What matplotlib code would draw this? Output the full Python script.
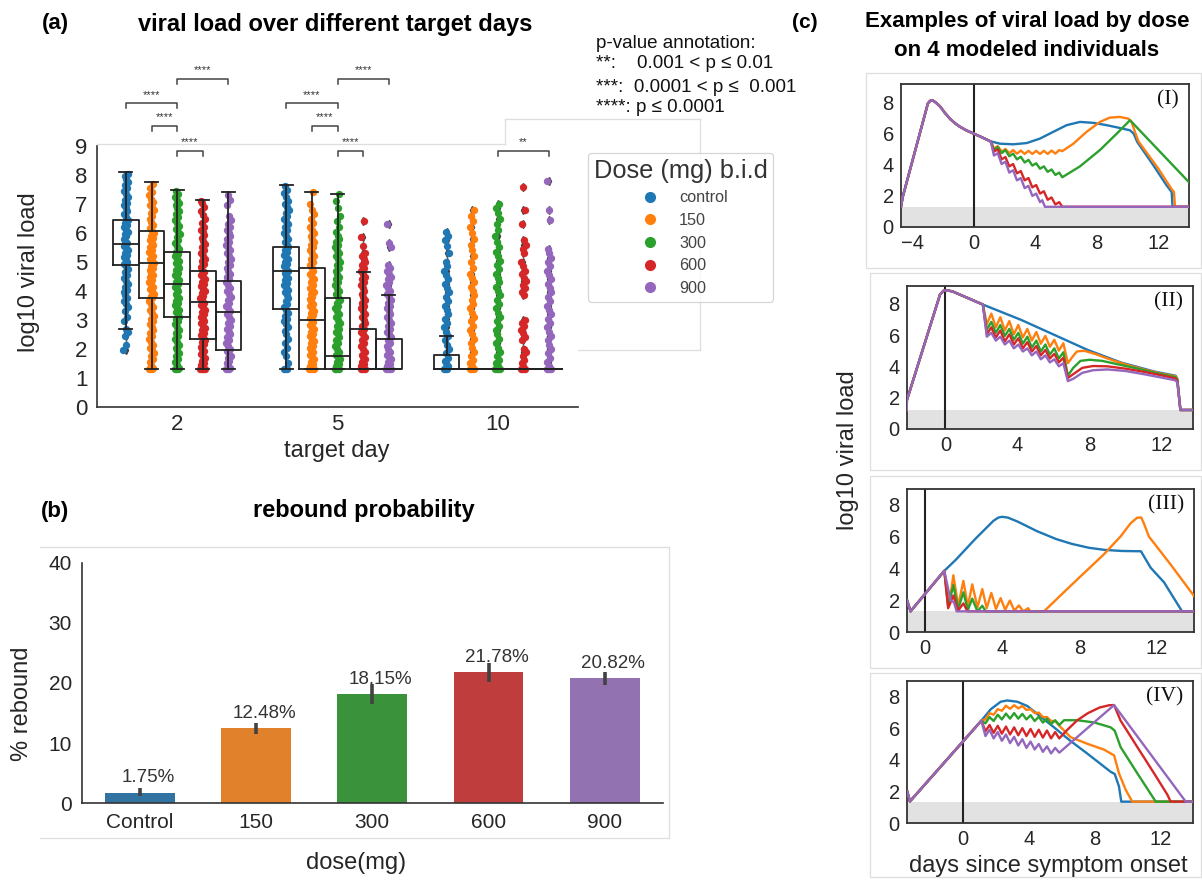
import matplotlib
matplotlib.use('Agg')
import matplotlib.pyplot as plt
from matplotlib.lines import Line2D
from matplotlib.patches import Rectangle

plt.rcParams['font.family'] = ['Liberation Sans', 'DejaVu Sans']

# ---------------------------------------------------------------- data (a)
target_days = ['2', '5', '10']
dose_names = ['control', '150', '300', '600', '900']

day2_control = [1.95, 2.15, 2.45, 2.6, 2.7, 2.95, 3.1, 3.3, 3.45, 3.55, 3.65, 3.75, 3.85, 3.95, 4.05, 4.15, 4.25, 4.35, 4.45, 4.55, 4.65, 4.75, 4.85, 4.92, 5.0, 5.08, 5.16, 5.24, 5.32, 5.4, 5.48, 5.56, 5.64, 5.72, 5.8, 5.88, 5.96, 6.04, 6.12, 6.2, 6.28, 6.36, 6.45, 6.55, 6.65, 6.75, 6.85, 6.95, 7.05, 7.15, 7.25, 7.35, 7.45, 7.55, 7.65, 7.75, 7.85, 7.95, 8.05]
day2_150 = [1.3, 1.3, 1.3, 1.36, 1.45, 1.55, 1.65, 1.75, 1.85, 1.95, 2.05, 2.15, 2.25, 2.35, 2.45, 2.55, 2.65, 2.75, 2.85, 2.95, 3.05, 3.15, 3.25, 3.35, 3.45, 3.55, 3.65, 3.75, 3.83, 3.91, 3.99, 4.07, 4.15, 4.23, 4.31, 4.39, 4.47, 4.55, 4.63, 4.71, 4.79, 4.87, 4.95, 5.03, 5.11, 5.19, 5.27, 5.35, 5.43, 5.51, 5.59, 5.67, 5.75, 5.83, 5.91, 5.99, 6.08, 6.18, 6.28, 6.38, 6.48, 6.58, 6.68, 6.78, 6.88, 6.98, 7.08, 7.18, 7.3, 7.42, 7.55, 7.7]
day2_300 = [1.3, 1.3, 1.3, 1.36, 1.45, 1.55, 1.65, 1.75, 1.85, 1.95, 2.05, 2.15, 2.25, 2.35, 2.45, 2.55, 2.65, 2.75, 2.85, 2.95, 3.03, 3.11, 3.19, 3.27, 3.35, 3.43, 3.51, 3.59, 3.67, 3.75, 3.83, 3.91, 3.99, 4.07, 4.15, 4.23, 4.31, 4.39, 4.47, 4.55, 4.63, 4.71, 4.79, 4.87, 4.95, 5.03, 5.11, 5.19, 5.27, 5.35, 5.45, 5.55, 5.65, 5.75, 5.85, 5.95, 6.05, 6.15, 6.25, 6.35, 6.45, 6.55, 6.65, 6.75, 6.85, 6.95, 7.05, 7.15, 7.25, 7.35, 7.45]
day2_600 = [1.3, 1.3, 1.3, 1.3, 1.36, 1.44, 1.52, 1.6, 1.68, 1.76, 1.84, 1.92, 2.0, 2.08, 2.16, 2.24, 2.32, 2.4, 2.48, 2.56, 2.64, 2.72, 2.8, 2.88, 2.96, 3.04, 3.12, 3.2, 3.28, 3.36, 3.44, 3.52, 3.6, 3.68, 3.76, 3.84, 3.92, 4.0, 4.08, 4.16, 4.24, 4.32, 4.4, 4.48, 4.56, 4.64, 4.72, 4.82, 4.92, 5.02, 5.12, 5.22, 5.32, 5.42, 5.52, 5.62, 5.72, 5.82, 5.92, 6.02, 6.12, 6.22, 6.35, 6.5, 6.62, 6.75, 6.9, 7.05, 7.1]
day2_900 = [1.3, 1.3, 1.3, 1.36, 1.44, 1.52, 1.6, 1.68, 1.76, 1.84, 1.92, 2.0, 2.1, 2.2, 2.3, 2.4, 2.5, 2.6, 2.7, 2.8, 2.9, 3.0, 3.1, 3.2, 3.3, 3.4, 3.5, 3.6, 3.7, 3.8, 3.9, 4.0, 4.1, 4.2, 4.3, 4.4, 4.5, 4.6, 4.7, 4.8, 4.9, 5.0, 5.1, 5.2, 5.3, 5.4, 5.5, 5.6, 5.7, 5.8, 5.9, 6.0, 6.1, 6.2, 6.3, 6.45, 6.6, 6.95, 7.15, 7.3]

day5_control = [1.3, 1.3, 1.32, 1.5, 1.75, 1.9, 2.05, 2.2, 2.35, 2.5, 2.62, 2.75, 2.85, 2.95, 3.05, 3.15, 3.25, 3.35, 3.45, 3.55, 3.65, 3.75, 3.85, 3.95, 4.05, 4.13, 4.21, 4.29, 4.37, 4.45, 4.53, 4.61, 4.69, 4.77, 4.85, 4.93, 5.01, 5.09, 5.17, 5.25, 5.33, 5.41, 5.5, 5.6, 5.7, 5.8, 5.9, 6.0, 6.1, 6.2, 6.3, 6.4, 6.5, 6.6, 6.7, 6.8, 6.9, 7.0, 7.12, 7.25, 7.38, 7.5, 7.62]
day5_150 = [1.3, 1.3, 1.3, 1.3, 1.34, 1.4, 1.48, 1.56, 1.64, 1.72, 1.8, 1.88, 1.96, 2.04, 2.12, 2.2, 2.28, 2.36, 2.44, 2.52, 2.6, 2.68, 2.76, 2.84, 2.92, 3.0, 3.08, 3.16, 3.24, 3.32, 3.4, 3.48, 3.56, 3.64, 3.72, 3.8, 3.88, 3.96, 4.04, 4.12, 4.2, 4.3, 4.4, 4.5, 4.6, 4.7, 4.8, 4.9, 5.0, 5.1, 5.2, 5.3, 5.4, 5.5, 5.6, 5.7, 5.8, 5.9, 6.0, 6.1, 6.22, 6.35, 6.5, 6.65, 6.8, 7.0, 7.4]
day5_300 = [1.3, 1.3, 1.3, 1.3, 1.34, 1.4, 1.48, 1.56, 1.64, 1.72, 1.8, 1.9, 2.0, 2.1, 2.2, 2.3, 2.4, 2.5, 2.6, 2.7, 2.8, 2.9, 3.0, 3.1, 3.2, 3.3, 3.4, 3.5, 3.6, 3.7, 3.8, 3.9, 4.0, 4.1, 4.2, 4.3, 4.4, 4.5, 4.6, 4.7, 4.8, 4.9, 5.0, 5.1, 5.2, 5.3, 5.4, 5.5, 5.6, 5.7, 5.8, 5.9, 6.05, 6.2, 6.4, 6.6, 6.85, 7.1, 7.35]
day5_600 = [1.3, 1.3, 1.3, 1.3, 1.34, 1.4, 1.48, 1.56, 1.64, 1.72, 1.8, 1.9, 2.0, 2.1, 2.2, 2.3, 2.4, 2.5, 2.6, 2.7, 2.8, 2.9, 3.0, 3.1, 3.2, 3.3, 3.4, 3.5, 3.6, 3.7, 3.8, 3.9, 4.0, 4.1, 4.2, 4.3, 4.4, 4.5, 4.6, 4.7, 4.8, 4.9, 5.0, 5.1, 5.2, 5.3, 5.55, 5.85, 6.4]
day5_900 = [1.3, 1.3, 1.3, 1.3, 1.34, 1.4, 1.48, 1.56, 1.64, 1.72, 1.8, 1.9, 2.0, 2.1, 2.2, 2.3, 2.4, 2.5, 2.6, 2.7, 2.8, 2.9, 3.0, 3.1, 3.2, 3.3, 3.4, 3.5, 3.6, 3.7, 3.8, 3.9, 4.0, 4.1, 4.2, 4.3, 4.4, 4.5, 4.6, 4.7, 4.8, 4.9, 5.5, 5.65, 6.3]

day10_control = [1.3, 1.3, 1.3, 1.4, 1.5, 1.6, 1.7, 1.85, 2.0, 2.15, 2.3, 2.45, 2.6, 2.75, 2.9, 3.05, 3.2, 3.35, 3.5, 3.65, 3.8, 3.95, 4.1, 4.25, 4.4, 4.55, 4.7, 4.85, 5.0, 5.3, 5.55, 5.75, 5.9, 6.05]
day10_150 = [1.3, 1.3, 1.3, 1.3, 1.4, 1.5, 1.62, 1.75, 1.9, 2.05, 2.2, 2.35, 2.5, 2.65, 2.8, 2.95, 3.1, 3.25, 3.4, 3.55, 3.7, 3.85, 4.0, 4.15, 4.3, 4.45, 4.6, 4.8, 5.0, 5.2, 5.4, 5.6, 5.8, 6.0, 6.2, 6.4, 6.6, 6.8]
day10_300 = [1.3, 1.3, 1.3, 1.3, 1.4, 1.5, 1.62, 1.75, 1.9, 2.05, 2.2, 2.35, 2.5, 2.65, 2.8, 2.95, 3.1, 3.25, 3.4, 3.55, 3.7, 3.85, 4.0, 4.15, 4.3, 4.45, 4.6, 4.75, 4.9, 5.05, 5.2, 5.35, 5.5, 5.7, 5.9, 6.1, 6.3, 6.5, 6.7, 6.85, 7.0]
day10_600 = [1.3, 1.3, 1.3, 1.3, 1.4, 1.5, 1.62, 1.75, 1.9, 2.0, 2.3, 2.42, 2.54, 2.66, 2.78, 2.9, 3.0, 3.85, 3.97, 4.09, 4.21, 4.33, 4.45, 4.57, 4.7, 4.85, 5.0, 5.3, 5.45, 5.6, 5.75, 6.3, 6.8, 7.6]
day10_900 = [1.3, 1.3, 1.3, 1.3, 1.42, 1.55, 1.7, 1.85, 2.0, 2.15, 2.3, 2.45, 2.6, 2.75, 2.9, 3.05, 3.2, 3.35, 3.5, 3.65, 3.8, 3.95, 4.1, 4.25, 4.4, 4.55, 4.7, 4.85, 5.0, 5.15, 5.3, 5.45, 6.45, 6.8, 7.8]

strip_values = [
    [day2_control, day2_150, day2_300, day2_600, day2_900],
    [day5_control, day5_150, day5_300, day5_600, day5_900],
    [day10_control, day10_150, day10_300, day10_600, day10_900],
]

# box statistics per target day (control, 150, 300, 600, 900)
box_q1 = [[4.9, 3.75, 3.09, 2.36, 1.96], [3.37, 1.32, 1.32, 1.32, 1.32], [1.32, 1.32, 1.32, 1.32, 1.32]]
box_med = [[5.62, 4.96, 4.23, 3.63, 3.29], [4.7, 3.0, 1.75, 1.32, 1.32], [1.32, 1.32, 1.32, 1.32, 1.32]]
box_q3 = [[6.46, 6.08, 5.33, 4.7, 4.33], [5.51, 4.79, 3.75, 2.69, 2.36], [1.78, 1.32, 1.32, 1.32, 1.32]]
box_wlo = [[2.7, 1.3, 1.3, 1.3, 1.3], [1.3, 1.3, 1.3, 1.3, 1.3], [1.3, 1.3, 1.3, 1.3, 1.3]]
box_whi = [[8.1, 7.75, 7.5, 7.15, 7.4], [7.65, 7.4, 7.35, 4.67, 3.86], [2.45, 1.32, 1.32, 1.32, 1.32]]

# significance brackets: target day index, hue a, hue b, height, label
sig_day = [0, 0, 0, 0, 1, 1, 1, 1, 2]
sig_a = [0, 1, 2, 2, 0, 1, 2, 2, 2]
sig_b = [2, 2, 3, 4, 2, 2, 3, 4, 4]
sig_y = [10.47, 9.69, 8.84, 11.31, 10.47, 9.69, 8.84, 11.31, 8.84]
sig_text = ['****', '****', '****', '****', '****', '****', '****', '****', '**']

# ---------------------------------------------------------------- data (b)
bar_labels = ['Control', '150', '300', '600', '900']
rebound_pct = [1.75, 12.48, 18.15, 21.78, 20.82]
rebound_lo = [1.2, 11.5, 16.5, 20.2, 19.7]
rebound_hi = [2.5, 13.4, 19.8, 23.3, 21.9]

# ---------------------------------------------------------------- data (c)
# Panel I
I_pre_x = [-4.75, -4.64, -3.0, -2.85, -2.7, -2.5, -2.2, -1.9, -1.55, -1.2, -0.9, -0.5, 0.0, 0.5, 1.05]
I_pre_y = [1.3, 1.93, 7.95, 8.12, 8.15, 8.02, 7.75, 7.35, 6.95, 6.65, 6.44, 6.22, 6.0, 5.78, 5.52]
I_zig_t = [1.1, 1.3, 1.55, 1.8, 2.05, 2.3, 2.55, 2.8, 3.05, 3.3, 3.55, 3.8, 4.05, 4.3, 4.55, 4.8, 5.05, 5.3, 5.55, 5.75]
I_control_x = [1.69, 2.56, 3.43, 4.3, 5.16, 6.03, 6.9, 7.77, 8.64, 9.5, 10.16, 10.4, 10.63, 11.68, 12.54, 12.87, 12.93, 14.0]
I_control_y = [5.36, 5.32, 5.4, 5.69, 6.12, 6.55, 6.76, 6.7, 6.55, 6.37, 6.22, 6.0, 5.47, 3.97, 2.68, 2.25, 1.3, 1.3]
I_150_zig = [5.5, 5.05, 5.2, 4.85, 5.02, 4.75, 4.95, 4.72, 4.92, 4.7, 4.9, 4.7, 4.9, 4.7, 4.9, 4.7, 4.92, 4.72, 4.95, 4.88]
I_150_tail_x = [6.47, 7.33, 8.2, 8.85, 9.5, 10.05, 10.26, 10.48, 10.7, 12.0, 12.87, 13.02, 13.09, 14.0]
I_150_tail_y = [5.36, 6.12, 6.76, 7.04, 7.08, 6.97, 6.76, 6.12, 5.52, 3.76, 2.43, 2.25, 1.3, 1.3]
I_300_zig = [5.5, 4.95, 5.15, 4.75, 4.95, 4.55, 4.72, 4.35, 4.52, 4.15, 4.32, 3.95, 4.1, 3.75, 3.9, 3.55, 3.7, 3.35, 3.5, 3.2]
I_300_tail_x = [6.9, 8.2, 9.29, 10.16, 14.0]
I_300_tail_y = [3.9, 4.95, 6.0, 6.87, 2.88]
I_600_zig = [5.5, 4.85, 5.0, 4.35, 4.5, 3.9, 4.05, 3.45, 3.6, 3.0, 3.15, 2.55, 2.7, 2.15, 2.3, 1.75, 1.9, 1.45, 1.6, 1.3]
I_600_tail_x = [14.0]
I_600_tail_y = [1.3]
I_900_t = [1.1, 1.3, 1.55, 1.8, 2.05, 2.3, 2.55, 2.8, 3.05, 3.3, 3.55, 3.8, 4.05, 4.3, 4.45, 4.62, 14.0]
I_900_y = [5.5, 4.6, 4.75, 4.05, 4.2, 3.5, 3.65, 3.0, 3.15, 2.5, 2.65, 2.0, 2.15, 1.6, 1.72, 1.3, 1.3]

# Panel II
II_pre_x = [-2.15, -2.14, -0.3, -0.1, 0.1, 0.4, 1.0, 2.08]
II_pre_y = [1.2, 1.83, 8.6, 8.85, 8.87, 8.8, 8.5, 7.96]
II_zig_t = [2.08, 2.3, 2.55, 2.8, 3.05, 3.3, 3.55, 3.8, 4.05, 4.3, 4.55, 4.8, 5.05, 5.3, 5.55, 5.8, 6.05, 6.3, 6.55, 6.8]
II_control_x = [4.18, 6.04, 7.9, 9.76, 11.62, 12.78, 12.88, 13.05, 13.75]
II_control_y = [6.99, 6.02, 5.05, 4.24, 3.66, 3.4, 3.2, 1.2, 1.2]
II_150_zig = [7.96, 6.7, 7.38, 6.5, 7.15, 6.3, 6.9, 6.05, 6.65, 5.85, 6.4, 5.65, 6.2, 5.45, 5.95, 5.25, 5.7, 5.0, 5.48, 4.2]
II_150_tail_x = [7.05, 7.3, 7.7, 8.3, 9.0, 10.0, 11.0, 12.0, 12.78, 12.88, 13.05, 13.75]
II_150_tail_y = [4.6, 4.95, 5.0, 4.8, 4.5, 4.12, 3.8, 3.53, 3.36, 3.17, 1.2, 1.2]
II_300_zig = [7.96, 6.35, 6.85, 6.15, 6.65, 5.95, 6.4, 5.7, 6.15, 5.45, 5.9, 5.2, 5.65, 4.95, 5.4, 4.75, 5.15, 4.5, 4.9, 3.4]
II_300_tail_x = [7.1, 7.5, 8.0, 8.7, 9.5, 10.5, 11.5, 12.78, 12.88, 13.05, 13.75]
II_300_tail_y = [3.9, 4.35, 4.42, 4.35, 4.15, 3.9, 3.62, 3.3, 3.12, 1.2, 1.2]
II_600_zig = [7.96, 6.05, 6.5, 5.85, 6.3, 5.6, 6.05, 5.4, 5.8, 5.15, 5.55, 4.95, 5.3, 4.7, 5.05, 4.5, 4.8, 4.25, 4.55, 3.25]
II_600_tail_x = [7.1, 7.6, 8.2, 9.0, 10.0, 11.0, 12.0, 12.78, 12.88, 13.05, 13.75]
II_600_tail_y = [3.5, 3.9, 4.02, 4.0, 3.85, 3.65, 3.42, 3.22, 3.05, 1.2, 1.2]
II_900_zig = [7.96, 5.9, 6.15, 5.65, 5.9, 5.4, 5.65, 5.15, 5.4, 4.95, 5.15, 4.7, 4.95, 4.45, 4.7, 4.25, 4.45, 4.0, 4.2, 3.05]
II_900_tail_x = [7.1, 7.6, 8.2, 9.0, 10.0, 11.0, 12.0, 12.78, 12.88, 13.05, 13.75]
II_900_tail_y = [3.2, 3.58, 3.75, 3.8, 3.7, 3.5, 3.28, 3.1, 2.95, 1.2, 1.2]

# Panel III
III_pre_x = [-0.93, -0.75, 1.0]
III_pre_y = [2.0, 1.3, 3.85]
III_control_x = [1.6, 2.6, 3.55, 3.8, 4.0, 4.3, 4.8, 5.8, 6.8, 7.6, 8.5, 9.3, 10.2, 11.2, 11.35, 11.7, 12.4, 13.33, 13.95]
III_control_y = [4.55, 5.85, 7.0, 7.2, 7.25, 7.2, 6.95, 6.35, 5.85, 5.55, 5.3, 5.17, 5.1, 5.08, 4.77, 4.05, 3.12, 1.3, 1.3]
III_150_x = [1.25, 1.47, 1.72, 1.99, 2.22, 2.45, 2.72, 2.97, 3.2, 3.44, 3.68, 3.92, 4.16, 4.4, 4.63, 4.87, 5.1, 5.35, 5.45, 6.17, 7.55, 9.27, 10.14, 10.66, 11.0, 11.21, 11.35, 11.61, 12.73, 13.95]
III_150_y = [1.7, 3.57, 1.65, 3.22, 1.6, 3.0, 1.55, 2.7, 1.5, 2.46, 1.45, 2.13, 1.4, 1.98, 1.35, 1.67, 1.3, 1.5, 1.3, 1.3, 2.91, 4.88, 6.01, 6.84, 7.19, 7.21, 6.84, 6.01, 4.26, 2.27]
III_300_x = [1.2, 1.47, 1.72, 1.99, 2.22, 2.45, 2.72, 2.97, 3.15, 13.95]
III_300_y = [1.6, 2.95, 1.45, 2.5, 1.38, 2.1, 1.3, 1.65, 1.3, 1.3]
III_600_x = [1.2, 1.47, 1.72, 1.99, 2.2, 13.95]
III_600_y = [1.5, 2.3, 1.35, 1.8, 1.3, 1.3]
III_900_x = [1.33, 1.5, 1.64, 13.95]
III_900_y = [1.98, 1.88, 1.3, 1.3]

# Panel IV
IV_pre_x = [-3.42, -3.25, 1.1]
IV_pre_y = [2.0, 1.37, 6.47]
IV_zig_t = [1.1, 1.35, 1.6, 1.85, 2.1, 2.35, 2.6, 2.85, 3.1, 3.35, 3.6, 3.85, 4.1, 4.35, 4.6, 4.85, 5.1, 5.35, 5.6, 5.85]
IV_control_x = [1.67, 2.28, 2.68, 3.29, 3.9, 4.6, 5.53, 6.5, 7.56, 8.98, 9.23, 9.49, 9.63, 14.02]
IV_control_y = [7.19, 7.67, 7.75, 7.67, 7.4, 6.82, 6.05, 5.22, 4.39, 3.24, 3.1, 2.31, 1.35, 1.35]
IV_150_zig = [6.47, 6.55, 6.95, 6.85, 7.2, 7.1, 7.42, 7.22, 7.45, 7.25, 7.4, 7.15, 7.2, 6.95, 6.98, 6.7, 6.7, 6.45, 6.45, 6.15]
IV_150_tail_x = [6.54, 7.56, 8.58, 9.19, 9.49, 9.9, 10.3, 14.02]
IV_150_tail_y = [5.43, 5.01, 4.64, 4.28, 3.14, 2.1, 1.35, 1.35]
IV_300_zig = [6.47, 6.3, 6.7, 6.45, 6.85, 6.55, 6.92, 6.6, 6.95, 6.6, 6.9, 6.55, 6.82, 6.45, 6.72, 6.35, 6.6, 6.25, 6.5, 6.2]
IV_300_tail_x = [6.14, 6.95, 7.97, 8.98, 9.23, 9.59, 10.61, 11.73, 14.02]
IV_300_tail_y = [6.5, 6.5, 6.36, 6.05, 5.84, 4.8, 3.14, 1.35, 1.35]
IV_600_zig = [6.47, 5.8, 6.2, 5.7, 6.15, 5.65, 6.1, 5.6, 6.05, 5.55, 6.0, 5.5, 5.95, 5.45, 5.9, 5.4, 5.85, 5.35, 5.75, 5.35]
IV_600_tail_x = [6.3, 6.95, 7.6, 8.3, 8.9, 9.19, 9.59, 10.61, 11.63, 12.44, 12.64, 14.02]
IV_600_tail_y = [5.85, 6.5, 6.95, 7.3, 7.45, 7.46, 6.47, 4.8, 3.14, 1.79, 1.35, 1.35]
IV_900_zig = [6.47, 5.5, 5.9, 5.35, 5.75, 5.2, 5.6, 5.05, 5.45, 4.9, 5.3, 4.75, 5.15, 4.65, 5.0, 4.5, 4.85, 4.4, 4.75, 4.45]
IV_900_tail_x = [9.19, 13.56, 14.02]
IV_900_tail_y = [7.46, 1.35, 1.35]

panel_names = ['(I)', '(II)', '(III)', '(IV)']
panel_lod = [1.3, 1.2, 1.3, 1.35]
panel_xlim = [(-4.77, 14.0), (-2.15, 13.75), (-0.95, 13.95), (-3.45, 14.02)]
panel_ylim = [(0, 9.2), (0, 9.15), (0, 9.0), (0, 9.0)]
panel_xticks = [[-4, 0, 4, 8, 12], [0, 4, 8, 12], [0, 4, 8, 12], [0, 4, 8, 12]]

# ---------------------------------------------------------------- styling
PAL = ['#1f77b4', '#ff7f0e', '#2ca02c', '#d62728', '#9467bd']
BAR_PAL = ['#3274a1', '#e1812c', '#3a923a', '#c03d3e', '#9372b2']
TXT = '#262626'
SPINE = '#333333'
FAINT = '#dedede'

W, H = 1202, 880
fig = plt.figure(figsize=(W / 100, H / 100), dpi=100)


def fx(px):
    return px / W


def fy(py):
    return 1 - py / H


def rect(l, t, r, b):
    return [fx(l), fy(b), (r - l) / W, (b - t) / H]


def faint_line(x0, y0, x1, y1):
    fig.add_artist(Line2D([fx(x0), fx(x1)], [fy(y0), fy(y1)], color=FAINT, lw=0.9,
                          transform=fig.transFigure, zorder=0))


# faint outlines of the composed panels
faint_line(97, 144, 505, 144)
faint_line(505, 119, 700, 119)
faint_line(505, 119, 505, 144)
faint_line(700, 119, 700, 350)
faint_line(578, 350, 700, 350)
faint_line(40, 547, 669, 547)
faint_line(40, 838, 669, 838)
faint_line(669, 547, 669, 838)
for (l, t, r, b) in [(866, 73, 1201, 268), (870, 273, 1201, 470), (870, 476, 1201, 668), (870, 673, 1201, 877)]:
    fig.add_artist(Rectangle((fx(l), fy(b)), (r - l) / W, (b - t) / H, transform=fig.transFigure,
                             fill=False, edgecolor=FAINT, lw=0.9, zorder=0))

# ================================================================ panel (a)
axa = fig.add_axes(rect(97, 146, 578, 407))
offsets = [-0.32, -0.16, 0.0, 0.16, 0.32]
for gi in range(len(target_days)):
    for hi in range(len(dose_names)):
        vals = strip_values[gi][hi]
        xc = gi + offsets[hi]
        lo = box_wlo[gi][hi]
        hi_w = box_whi[gi][hi]
        fliers = [v for v in vals if v > hi_w + 0.02 or v < lo - 0.02]
        axa.plot([xc] * len(fliers), fliers, ls='none', marker='d', markersize=3.6,
                 markerfacecolor='#3d3d3d', markeredgecolor='#3d3d3d', zorder=1.5)
        jit = [(((k * 0.6180339887) % 1.0) - 0.5) * 0.03 for k in range(len(vals))]
        axa.scatter([xc + j for j in jit], vals, s=28, color=PAL[hi], linewidths=0, zorder=2)
        stats = dict(q1=box_q1[gi][hi], med=box_med[gi][hi], q3=box_q3[gi][hi],
                     whislo=lo, whishi=hi_w, fliers=[])
        axa.bxp([stats], positions=[xc], widths=0.16, capwidths=[0.08], manage_ticks=False,
                showfliers=False,
                boxprops=dict(color='#222222', lw=1.3),
                whiskerprops=dict(color='#222222', lw=1.3),
                capprops=dict(color='#222222', lw=1.3),
                medianprops=dict(color='#222222', lw=1.3),
                zorder=3)

for d, a, b, y, t in zip(sig_day, sig_a, sig_b, sig_y, sig_text):
    x1 = d + offsets[a]
    x2 = d + offsets[b]
    axa.plot([x1, x1, x2, x2], [y - 0.17, y, y, y - 0.17], color='#444444', lw=1.1,
             clip_on=False, zorder=5)
    axa.text((x1 + x2) / 2, y + 0.12, t, ha='center', va='bottom', fontsize=8,
             color='#333333', clip_on=False)

axa.set_xlim(-0.5, 2.5)
axa.set_ylim(0, 9)
axa.set_xticks(range(3))
axa.set_xticklabels(target_days)
axa.set_yticks(range(10))
axa.tick_params(axis='y', length=0, labelsize=16, pad=7, colors=TXT)
axa.tick_params(axis='x', length=0, labelsize=16, pad=5, colors=TXT)
for s in ['top', 'right']:
    axa.spines[s].set_visible(False)
for s in ['left', 'bottom']:
    axa.spines[s].set_color(SPINE)
    axa.spines[s].set_linewidth(1.2)

fig.text(fx(29), fy(272), 'log10 viral load', rotation=90, ha='center', va='center',
         fontsize=17, color=TXT)
fig.text(fx(337), fy(451), 'target day', ha='center', va='center', fontsize=17, color=TXT)
fig.text(fx(55), fy(23), '(a)', ha='center', va='center', fontsize=16, fontweight='bold')
fig.text(fx(335), fy(25), 'viral load over different target days', ha='center', va='center',
         fontsize=17, fontweight='bold')

handles = [Line2D([], [], marker='o', ls='', color=PAL[i], markersize=7) for i in range(5)]
leg = axa.legend(handles, dose_names, title='Dose (mg) b.i.d', loc='upper left',
                 bbox_to_anchor=(fx(588), fy(153)), bbox_transform=fig.transFigure,
                 fontsize=11.7, title_fontsize=18.3, borderaxespad=0, frameon=True,
                 labelspacing=0.47, borderpad=0.35)
leg.get_frame().set_edgecolor('#cccccc')
leg.get_frame().set_linewidth(0.9)
leg.get_title().set_color('#333333')
for t in leg.get_texts():
    t.set_color('#444444')

pv_lines = ['p-value annotation:', '**:    0.001 < p ≤ 0.01', '***:  0.0001 < p ≤  0.001',
            '****: p ≤ 0.0001']
pv_y = [43, 64, 87, 108]
for line, yy in zip(pv_lines, pv_y):
    fig.text(fx(596), fy(yy), line, ha='left', va='center', fontsize=13.5, color='#111111',
             family=['Liberation Sans', 'DejaVu Sans'])

# ================================================================ panel (b)
axb = fig.add_axes(rect(81.5, 563, 663, 803))
xb = list(range(len(bar_labels)))
axb.bar(xb, rebound_pct, width=0.6, color=BAR_PAL, zorder=2)
axb.vlines(xb, rebound_lo, rebound_hi, color='#424242', lw=2.6, zorder=4)
for i, v in enumerate(rebound_pct):
    axb.text(i + 0.07, v + 2.45, f'{v:.2f}%', ha='center', va='center', fontsize=13.5,
             color='#333333', zorder=3)
axb.set_xlim(-0.5, 4.5)
axb.set_ylim(0, 40)
axb.set_xticks(xb)
axb.set_xticklabels(bar_labels)
axb.set_yticks([0, 10, 20, 30, 40])
axb.tick_params(length=0, labelsize=15, pad=7, colors=TXT)
for s in ['top', 'right']:
    axb.spines[s].set_visible(False)
for s in ['left', 'bottom']:
    axb.spines[s].set_color(SPINE)
    axb.spines[s].set_linewidth(1.2)
fig.text(fx(22), fy(704), '% rebound', rotation=90, ha='center', va='center', fontsize=17,
         color=TXT)
fig.text(fx(356), fy(863), 'dose(mg)', ha='center', va='center', fontsize=17, color=TXT)
fig.text(fx(55), fy(511), '(b)', ha='center', va='center', fontsize=16, fontweight='bold')
fig.text(fx(364), fy(511), 'rebound probability', ha='center', va='center', fontsize=17,
         fontweight='bold')

# ================================================================ panel (c)
panel_rects = [rect(900.7, 84, 1189, 227), rect(906.7, 286, 1193, 428.7),
               rect(906.7, 489, 1194, 632), rect(906.7, 680.7, 1193.3, 823)]

curves = [
    (I_pre_x, I_pre_y, [
        (I_control_x, I_control_y),
        (I_zig_t + I_150_tail_x, I_150_zig + I_150_tail_y),
        (I_zig_t + I_300_tail_x, I_300_zig + I_300_tail_y),
        (I_zig_t + I_600_tail_x, I_600_zig + I_600_tail_y),
        (I_900_t, I_900_y)]),
    (II_pre_x, II_pre_y, [
        (II_control_x, II_control_y),
        (II_zig_t + II_150_tail_x, II_150_zig + II_150_tail_y),
        (II_zig_t + II_300_tail_x, II_300_zig + II_300_tail_y),
        (II_zig_t + II_600_tail_x, II_600_zig + II_600_tail_y),
        (II_zig_t + II_900_tail_x, II_900_zig + II_900_tail_y)]),
    (III_pre_x, III_pre_y, [
        (III_control_x, III_control_y),
        (III_150_x, III_150_y),
        (III_300_x, III_300_y),
        (III_600_x, III_600_y),
        (III_900_x, III_900_y)]),
    (IV_pre_x, IV_pre_y, [
        (IV_control_x, IV_control_y),
        (IV_zig_t + IV_150_tail_x, IV_150_zig + IV_150_tail_y),
        (IV_zig_t + IV_300_tail_x, IV_300_zig + IV_300_tail_y),
        (IV_zig_t + IV_600_tail_x, IV_600_zig + IV_600_tail_y),
        (IV_zig_t + IV_900_tail_x, IV_900_zig + IV_900_tail_y)]),
]

for pi in range(4):
    ax = fig.add_axes(panel_rects[pi])
    ax.axhspan(-1, panel_lod[pi], color='#e2e2e2', lw=0, zorder=0)
    ax.axvline(0, color='#222222', lw=1.5, zorder=1)
    pre_x, pre_y, dose_curves = curves[pi]
    for di, (cx, cy) in enumerate(dose_curves):
        ax.plot(list(pre_x) + list(cx), list(pre_y) + list(cy), color=PAL[di], lw=1.7,
                zorder=2 + di, solid_joinstyle='round')
    ax.set_xlim(*panel_xlim[pi])
    ax.set_ylim(*panel_ylim[pi])
    ax.set_xticks(panel_xticks[pi])
    ax.set_yticks([0, 2, 4, 6, 8])
    ax.tick_params(length=0, labelsize=14.5, pad=5, colors=TXT)
    for s in ax.spines.values():
        s.set_color(SPINE)
        s.set_linewidth(1.3)
    ax.text(0.965, 0.955, panel_names[pi], transform=ax.transAxes, ha='right', va='top',
            fontsize=15.5, family=['Liberation Serif', 'DejaVu Serif'], color='#111111')

fig.text(fx(805), fy(22), '(c)', ha='center', va='center', fontsize=15, fontweight='bold')
fig.text(fx(1027), fy(22), 'Examples of viral load by dose', ha='center', va='center',
         fontsize=16, fontweight='bold')
fig.text(fx(1027), fy(50), 'on 4 modeled individuals', ha='center', va='center',
         fontsize=16, fontweight='bold')
fig.text(fx(848), fy(450), 'log10 viral load', rotation=90, ha='center', va='center',
         fontsize=17, color=TXT)
fig.text(fx(1048), fy(866), 'days since symptom onset', ha='center', va='center', fontsize=17,
         color=TXT)

fig.savefig('out.png', dpi=100)
